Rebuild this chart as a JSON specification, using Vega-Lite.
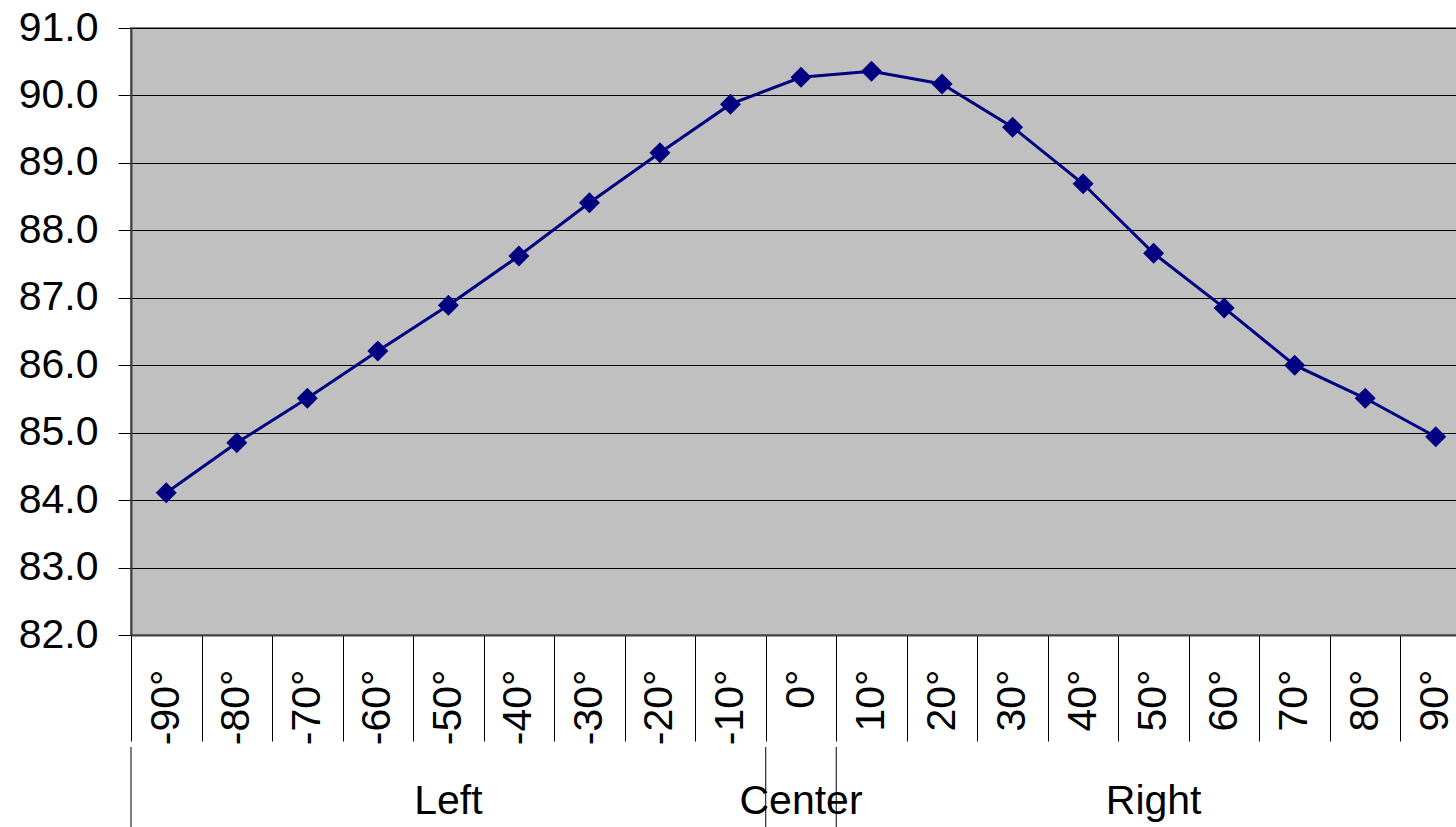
{
  "$schema": "https://vega.github.io/schema/vega-lite/v6.json",
  "padding": {"left": 17, "top": 6, "right": 0, "bottom": 0},
  "spacing": 0,
  "config": {
    "font": "Liberation Sans",
    "view": {"stroke": null},
    "axis": {"labelFont": "Liberation Sans", "labelColor": "#000000"}
  },
  "datasets": {
    "points": [
      {"angle": "-90°", "value": 84.11},
      {"angle": "-80°", "value": 84.85},
      {"angle": "-70°", "value": 85.51},
      {"angle": "-60°", "value": 86.21},
      {"angle": "-50°", "value": 86.89},
      {"angle": "-40°", "value": 87.62},
      {"angle": "-30°", "value": 88.41},
      {"angle": "-20°", "value": 89.15},
      {"angle": "-10°", "value": 89.87},
      {"angle": "0°", "value": 90.27},
      {"angle": "10°", "value": 90.36},
      {"angle": "20°", "value": 90.17},
      {"angle": "30°", "value": 89.53},
      {"angle": "40°", "value": 88.69},
      {"angle": "50°", "value": 87.66},
      {"angle": "60°", "value": 86.85},
      {"angle": "70°", "value": 86.0},
      {"angle": "80°", "value": 85.51},
      {"angle": "90°", "value": 84.94}
    ],
    "groups": [
      {"group": "Left", "start": "-90°", "mid": "-50°"},
      {"group": "Center", "start": "0°", "mid": "0°"},
      {"group": "Right", "start": "10°", "mid": "50°"}
    ]
  },
  "vconcat": [
    {
      "width": 1340,
      "height": 607,
      "view": {"fill": "#C0C0C0", "stroke": "#808080", "strokeWidth": 2},
      "data": {"name": "points"},
      "mark": {
        "type": "line",
        "color": "#000080",
        "strokeWidth": 3,
        "point": {"shape": "diamond", "size": 440, "filled": true, "color": "#000080", "opacity": 1}
      },
      "encoding": {
        "x": {
          "field": "angle",
          "type": "nominal",
          "sort": null,
          "scale": {
            "domain": ["-90°", "-80°", "-70°", "-60°", "-50°", "-40°", "-30°", "-20°", "-10°", "0°", "10°", "20°", "30°", "40°", "50°", "60°", "70°", "80°", "90°"],
            "paddingInner": 0,
            "paddingOuter": 0
          },
          "axis": {
            "title": null,
            "labelAngle": -90,
            "labelFontSize": 41,
            "labelPadding": -72,
            "tickBand": "extent",
            "tickSize": 106,
            "tickColor": "#000000",
            "tickWidth": 1,
            "domainColor": "#404040",
            "domainWidth": 2,
            "grid": false
          }
        },
        "y": {
          "field": "value",
          "type": "quantitative",
          "scale": {"domain": [82, 91], "nice": false, "zero": false},
          "axis": {
            "title": null,
            "values": [82, 83, 84, 85, 86, 87, 88, 89, 90, 91],
            "format": ".1f",
            "labelFontSize": 41,
            "labelPadding": 20,
            "tickSize": 13,
            "tickColor": "#000000",
            "domainColor": "#404040",
            "domainWidth": 2,
            "grid": true,
            "gridColor": "#000000",
            "gridWidth": 1,
            "gridOpacity": 1
          }
        }
      }
    },
    {
      "width": 1340,
      "height": 85,
      "data": {"name": "groups"},
      "layer": [
        {
          "mark": {"type": "rule", "color": "#000000", "strokeWidth": 1},
          "encoding": {
            "x": {
              "field": "start",
              "type": "nominal",
              "bandPosition": 0,
              "scale": {
                "domain": ["-90°", "-80°", "-70°", "-60°", "-50°", "-40°", "-30°", "-20°", "-10°", "0°", "10°", "20°", "30°", "40°", "50°", "60°", "70°", "80°", "90°"],
                "paddingInner": 0,
                "paddingOuter": 0
              },
              "axis": null
            }
          }
        },
        {
          "mark": {"type": "text", "fontSize": 41, "color": "#000000", "baseline": "alphabetic", "dy": 24},
          "encoding": {
            "x": {"field": "mid", "type": "nominal", "axis": null},
            "text": {"field": "group"}
          }
        }
      ]
    }
  ]
}
